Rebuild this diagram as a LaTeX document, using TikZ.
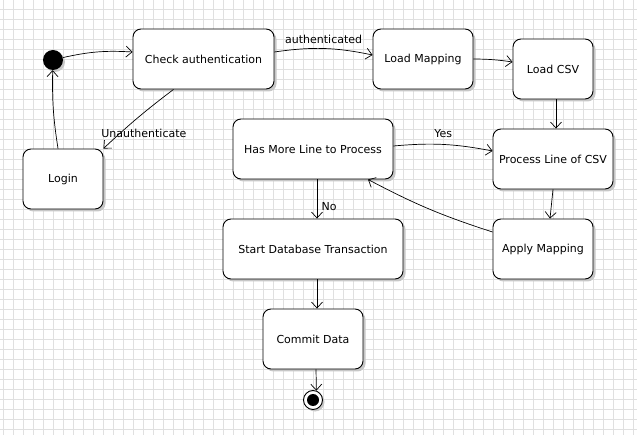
\documentclass[tikz,border=0pt]{standalone}
\usepackage{fontspec}
\setmainfont{DejaVu Sans}
\usetikzlibrary{arrows.meta,shadows}

\begin{document}
\begin{tikzpicture}[x=1pt,y=-1pt,
  state/.style={draw,line width=0.9pt,rounded corners=8pt,fill=white,minimum height=60pt,inner sep=0pt,
    font=\fontsize{11}{13}\selectfont,
    drop shadow={shadow xshift=2.5pt,shadow yshift=-2.5pt,fill=black!22,opacity=1}},
  trans/.style={line width=0.7pt,-{Straight Barb[length=6pt,width=11pt]}},
  lbl/.style={font=\fontsize{11}{13}\selectfont}]
\useasboundingbox (0,0) rectangle (637,435);
\fill[white] (0,0) rectangle (637,435);
\draw[black!12,line width=0.8pt,step=10pt,xshift=3pt,yshift=-9pt] (-3,-9) grid (634,426);
\node[circle,fill=black,minimum size=20pt,inner sep=0pt,
  drop shadow={shadow xshift=2pt,shadow yshift=-2pt,fill=black!22,opacity=1}] (init) at (53,60) {};
\node[state,minimum width=141pt] (chk) at (203.5,59) {Check authentication};
\node[state,minimum width=100pt] (map) at (423,59) {Load Mapping};
\node[state,minimum width=80pt] (csv) at (553,69) {Load CSV};
\node[state,minimum width=160pt] (more) at (313,149) {Has More Line to Process};
\node[state,minimum width=120pt] (proc) at (553,159) {Process Line of CSV};
\node[state,minimum width=80pt] (login) at (63,179) {Login};
\node[state,minimum width=180pt] (startdb) at (313,249) {Start Database Transaction};
\node[state,minimum width=100pt] (apply) at (543,249) {Apply Mapping};
\node[state,minimum width=100pt] (commit) at (313,339) {Commit Data};
\node[circle,draw,line width=0.9pt,fill=white,minimum size=19pt,inner sep=0pt,
  drop shadow={shadow xshift=2pt,shadow yshift=-2pt,fill=black!22,opacity=1}] (final) at (313,400) {};
\node[circle,fill=black,minimum size=12pt,inner sep=0pt] (finaldot) at (final) {};
\draw[trans] (init) to[bend left=8] ([yshift=7pt]chk.west);
\draw[trans] ([yshift=7pt]chk.east) to[bend left=10] node[midway,above=1pt,lbl]{authenticated} ([yshift=4pt]map.west);
\draw[trans] (map.east) to[bend left=4] ([yshift=7pt]csv.west);
\draw[trans] ([xshift=3pt]csv.south) -- ([xshift=3pt]csv.south |- proc.north);
\draw[trans] (proc.south) -- ([xshift=7pt]apply.north);
\draw[trans] ([yshift=17pt]apply.west) to[bend left=5] ([xshift=55pt]more.south);
\draw[trans] ([yshift=3pt]more.east) to[bend left=8] node[midway,above=3pt,lbl]{Yes} ([yshift=8pt]proc.west);
\draw[trans] ([xshift=4pt]more.south) -- node[pos=0.7,right=1pt,lbl]{No} ([xshift=4pt]startdb.north);
\draw[trans] ([xshift=4pt]startdb.south) -- ([xshift=4pt]commit.north);
\draw[trans] ([xshift=3pt]commit.south) -- (final.70);
\draw[trans] ([xshift=-30pt]chk.south) to[bend right=3] node[pos=0.62,xshift=14pt,yshift=-9pt,lbl]{Unauthenticate} (login.north east);
\draw[trans] ([xshift=-5pt]login.north) to[bend left=5] (init);
\end{tikzpicture}
\end{document}
